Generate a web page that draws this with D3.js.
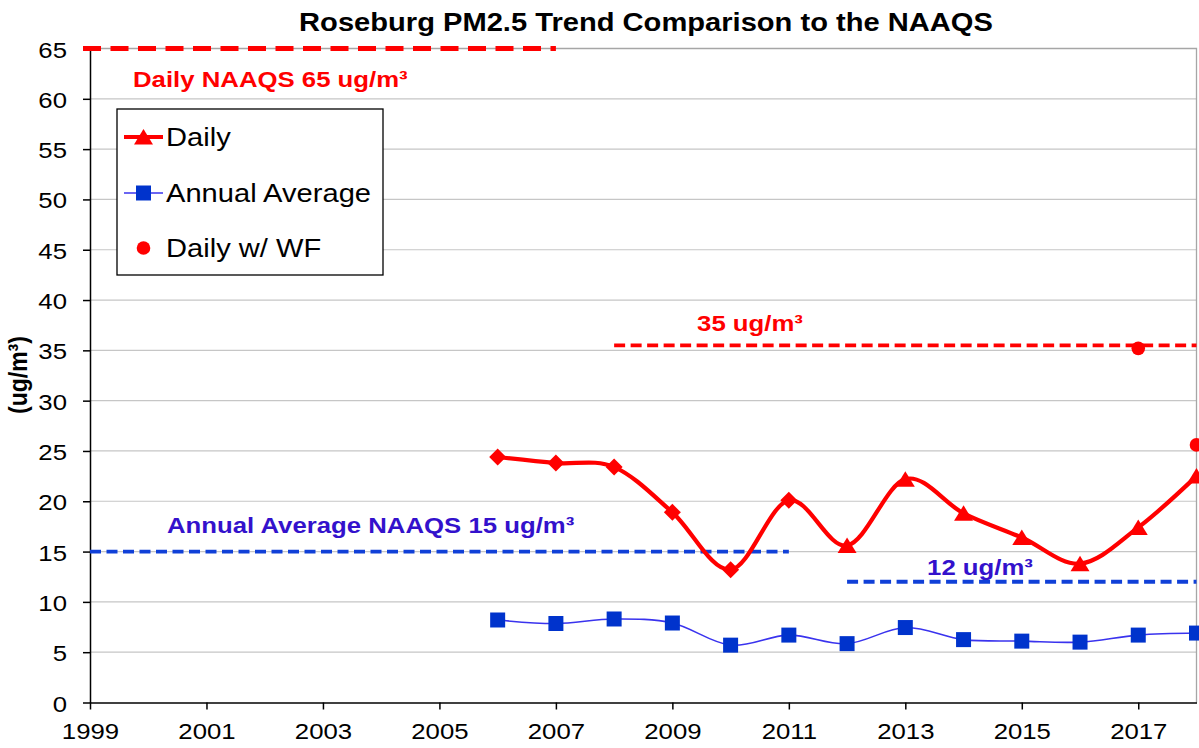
<!DOCTYPE html>
<html>
<head>
<meta charset="utf-8">
<script src="https://cdn.jsdelivr.net/npm/d3@7"></script>
<style>
  html, body { margin: 0; padding: 0; background: #fff; }
  svg { display: block; font-family: "Liberation Sans", Arial, sans-serif; }
</style>
</head>
<body>
<svg id="chart" width="1199" height="748"></svg>
<script>
// Roseburg PM2.5 design values (ug/m3)
const years        = [2006, 2007, 2008, 2009, 2010, 2011, 2012, 2013, 2014, 2015, 2016, 2017, 2018];
const dailyValues  = [24.4, 23.8, 23.4, 18.9, 13.2, 20.1, 15.6, 22.2, 18.8, 16.4, 13.8, 17.4, 22.5];
const dailyMarkers = ["diamond", "diamond", "diamond", "diamond", "diamond", "diamond",
                      "triangle", "triangle", "triangle", "triangle", "triangle", "triangle", "triangle"];
const annualValues = [8.2, 7.85, 8.3, 7.9, 5.7, 6.7, 5.85, 7.45, 6.25, 6.1, 6.0, 6.7, 6.9];

// Daily values including wildfire-influenced days
const wfYears  = [2017, 2018];
const wfValues = [35.2, 25.6];

// NAAQS reference lines
const stdNames  = ["Daily NAAQS 65 ug/m³", "35 ug/m³", "Annual Average NAAQS 15 ug/m³", "12 ug/m³"];
const stdValues = [65, 35.5, 15, 12];
const stdFrom   = [1999, 2008, 1999, 2012];
const stdTo     = [2007, 2018, 2011, 2018];
const stdKinds  = ["daily", "daily", "annual", "annual"];

// Axis ticks
const xTicks = [1999, 2001, 2003, 2005, 2007, 2009, 2011, 2013, 2015, 2017];
const yTicks = [0, 5, 10, 15, 20, 25, 30, 35, 40, 45, 50, 55, 60, 65];

const title = "Roseburg PM2.5 Trend Comparison to the NAAQS";
const yTitle = "(ug/m³)";
const legendNames = ["Daily", "Annual Average", "Daily w/ WF"];

// ---- styling ----
const SX = 1.12;               // horizontal text stretch
const RED = "#ff0000";
const SQUARE_BLUE = "#0033cc";
const LINE_BLUE = "#3a33ee";
const STD_BLUE = "#1040d8";
const LABEL_BLUE = "#3311cc";

const svg = d3.select("#chart");

const x = d3.scaleLinear().domain([1999, 2018]).range([90, 1196.5]);
const y = d3.scaleLinear().domain([0, 65]).range([702.5, 48.5]);

function stretch(sel) {
  sel.each(function () {
    const t = d3.select(this);
    const tx = +t.attr("x") || 0, ty = +t.attr("y") || 0;
    t.attr("x", null).attr("y", null)
     .attr("transform", `translate(${tx},${ty}) scale(${SX},1)`);
  });
}

// gridlines
svg.append("g")
  .selectAll("line")
  .data(yTicks.filter(d => d > 0))
  .join("line")
  .attr("x1", x.range()[0]).attr("x2", x.range()[1])
  .attr("y1", d => y(d)).attr("y2", d => y(d))
  .attr("stroke", "#c6c6c6").attr("stroke-width", 1.2);

// plot frame (top / right)
svg.append("path")
  .attr("d", `M${x.range()[0]},${y(65)}H${x.range()[1]}V${y(0)}`)
  .attr("fill", "none").attr("stroke", "#a6a6a6").attr("stroke-width", 1.3);

// axes
const yAxis = svg.append("g")
  .attr("transform", `translate(${x.range()[0]},0)`)
  .call(d3.axisLeft(y).tickValues(yTicks).tickSize(7).tickPadding(16).tickSizeOuter(0));
const xAxis = svg.append("g")
  .attr("transform", `translate(0,${y(0)})`)
  .call(d3.axisBottom(x).tickValues(xTicks).tickFormat(d3.format("d")).tickSize(7).tickPadding(13).tickSizeOuter(0));

[yAxis, xAxis].forEach(g => {
  g.select(".domain").attr("stroke", "#000").attr("stroke-width", 1.5);
  g.selectAll(".tick line").attr("stroke", "#000").attr("stroke-width", 1.5);
  g.selectAll(".tick text").attr("font-size", 23).attr("fill", "#000")
    .attr("font-family", "'Liberation Sans', Arial, sans-serif");
});
yAxis.selectAll(".tick text").attr("dy", "0.37em").call(stretch);
xAxis.selectAll(".tick text").call(stretch);

// standard lines
const stdIdx = d3.range(stdValues.length);
svg.append("g")
  .selectAll("line")
  .data(stdIdx)
  .join("line")
  .attr("x1", i => x(stdFrom[i]) - (stdValues[i] === 65 ? 7 : 0)).attr("x2", i => x(stdTo[i]))
  .attr("y1", i => y(stdValues[i])).attr("y2", i => y(stdValues[i]))
  .attr("stroke", i => stdKinds[i] === "daily" ? RED : STD_BLUE)
  .attr("stroke-width", i => stdValues[i] === 65 ? 4.8 : 3.8)
  .attr("stroke-dasharray", i => stdValues[i] === 65 ? "18,9.5" : "11,5.5");

// standard labels
const stdLabelPos = [[133, 87, "start"], [750, 331, "middle"], [167, 533, "start"], [980, 575, "middle"]];
svg.append("g")
  .selectAll("text")
  .data(stdIdx)
  .join("text")
  .attr("x", i => stdLabelPos[i][0]).attr("y", i => stdLabelPos[i][1])
  .attr("text-anchor", i => stdLabelPos[i][2])
  .attr("font-size", 23).attr("font-weight", "bold")
  .attr("fill", i => stdKinds[i] === "daily" ? RED : LABEL_BLUE)
  .text(i => stdNames[i])
  .call(stretch);

// smoothed series lines
const curve = d3.curveCatmullRom.alpha(0);
const annualLine = d3.line().x((d, i) => x(years[i])).y(d => y(d)).curve(curve);
const dailyLine = d3.line().x((d, i) => x(years[i])).y(d => y(d)).curve(curve);

svg.append("path").attr("d", annualLine(annualValues))
  .attr("fill", "none").attr("stroke", LINE_BLUE).attr("stroke-width", 1.6);
svg.append("path").attr("d", dailyLine(dailyValues))
  .attr("fill", "none").attr("stroke", RED).attr("stroke-width", 4.2).attr("stroke-linejoin", "round");

// marker shapes
const markerPath = {
  diamond: "M0,-8.5L8.5,0L0,8.5L-8.5,0Z",
  triangle: "M0,-8L9.5,7.5L-9.5,7.5Z",
  square: "M-7.5,-7.5H7.5V7.5H-7.5Z"
};

svg.append("g")
  .selectAll("path")
  .data(annualValues)
  .join("path")
  .attr("transform", (d, i) => `translate(${x(years[i])},${y(d)})`)
  .attr("d", markerPath.square)
  .attr("fill", SQUARE_BLUE);

svg.append("g")
  .selectAll("path")
  .data(dailyValues)
  .join("path")
  .attr("transform", (d, i) => `translate(${x(years[i])},${y(d)})`)
  .attr("d", (d, i) => markerPath[dailyMarkers[i]])
  .attr("fill", RED);

svg.append("g")
  .selectAll("circle")
  .data(wfValues)
  .join("circle")
  .attr("cx", (d, i) => x(wfYears[i])).attr("cy", d => y(d))
  .attr("r", 6.8).attr("fill", RED);

// legend
const legend = svg.append("g");
legend.append("rect")
  .attr("x", 117).attr("y", 109).attr("width", 266).attr("height", 166)
  .attr("fill", "#fff").attr("stroke", "#000").attr("stroke-width", 1.3);
const legendY = [137, 193, 248];
// Daily
legend.append("line").attr("x1", 124).attr("x2", 163).attr("y1", legendY[0]).attr("y2", legendY[0])
  .attr("stroke", RED).attr("stroke-width", 4);
legend.append("path").attr("transform", `translate(143.5,${legendY[0]})`).attr("d", markerPath.triangle).attr("fill", RED);
// Annual
legend.append("line").attr("x1", 124).attr("x2", 163).attr("y1", legendY[1]).attr("y2", legendY[1])
  .attr("stroke", LINE_BLUE).attr("stroke-width", 1.6);
legend.append("path").attr("transform", `translate(143.5,${legendY[1]})`).attr("d", markerPath.square).attr("fill", SQUARE_BLUE);
// Daily w/ WF
legend.append("circle").attr("cx", 143.5).attr("cy", legendY[2]).attr("r", 6.8).attr("fill", RED);

legend.selectAll("text.lt")
  .data(legendNames)
  .join("text")
  .attr("class", "lt")
  .attr("x", 166).attr("y", (d, i) => legendY[i] + 9)
  .attr("font-size", 26).attr("fill", "#000")
  .text(d => d)
  .call(stretch);

// title
svg.append("text")
  .attr("x", 646).attr("y", 31)
  .attr("text-anchor", "middle")
  .attr("font-size", 26).attr("font-weight", "bold")
  .text(title)
  .call(stretch);

// y axis title
svg.append("text")
  .attr("transform", `translate(27,375) scale(${SX},1) rotate(-90)`)
  .attr("text-anchor", "middle")
  .attr("font-size", 23).attr("font-weight", "bold")
  .text(yTitle);
</script>
</body>
</html>
